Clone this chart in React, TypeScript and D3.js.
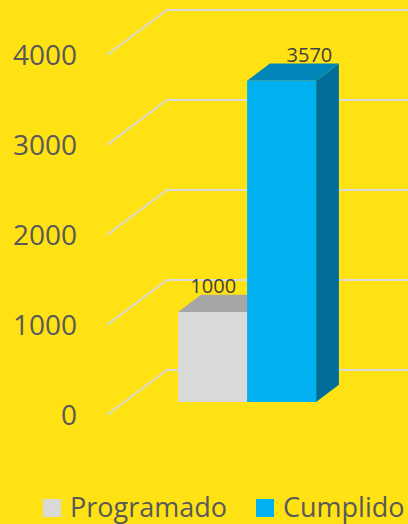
import * as d3 from 'd3';

const categories = ['Programado', 'Cumplido'];
const values = [1000, 3570];
const yTicks = [0, 1000, 2000, 3000, 4000];
const frontColors = ['#D9D9D9', '#00B0F0'];
const topColors = ['#A6A6A6', '#0086B8'];
const sideColors = ['#BFBFBF', '#006E98'];

const W = 408;
const H = 524;
const BG = '#FFE214';
const TEXT = '#595959';
const FONT = '"Open Sans", sans-serif';

// depth of the 3D box (grid front -> grid back)
const DX = 60;
const DY = -45;
const barFront = 0.29;
const barBack = 0.67;

const App = () => {
    const y = d3.scaleLinear().domain([0, 4000]).range([415, 55]);
    const x = d3.scaleBand().domain(categories).range([160.7, 298.7]).padding(0);
    const gridX0 = 107;

    const proj = (px: number, v: number, d: number): [number, number] => [px + DX * d, y(v) + DY * d];
    const poly = (pts: [number, number][]) => pts.map(p => p.join(',')).join(' ');

    return (
        <svg width={W} height={H} style={{ position: 'absolute', left: 0, top: 0, background: BG }}>
            <rect width={W} height={H} fill={BG} />
            {/* gridlines: diagonal side wall + horizontal back wall */}
            {yTicks.map(t => {
                const [fx, fy] = proj(gridX0, t, 0);
                const [bx, by] = proj(gridX0, t, 1);
                return (
                    <g key={t}>
                        <polyline points={poly([[fx, fy], [bx, by], [W, by]])} fill="none" stroke="#D9D9D9" strokeWidth={2} />
                        <text x={77} y={fy + 10} textAnchor="end" fontFamily={FONT} fontSize={28} fill={TEXT}>{t}</text>
                    </g>
                );
            })}
            {/* bars */}
            {categories.map((c, i) => {
                const x0 = x(c) as number;
                const x1 = x0 + x.bandwidth();
                const v = values[i];
                const front = poly([proj(x0, 0, barFront), proj(x1, 0, barFront), proj(x1, v, barFront), proj(x0, v, barFront)]);
                const top = poly([proj(x0, v, barFront), proj(x1, v, barFront), proj(x1, v, barBack), proj(x0, v, barBack)]);
                const side = poly([proj(x1, 0, barFront), proj(x1, 0, barBack), proj(x1, v, barBack), proj(x1, v, barFront)]);
                return (
                    <g key={c}>
                        <polygon points={side} fill={sideColors[i]} />
                        <polygon points={top} fill={topColors[i]} />
                        <polygon points={front} fill={frontColors[i]} />
                    </g>
                );
            })}
            {/* data labels */}
            {categories.map((c, i) => {
                const x0 = x(c) as number;
                const v = values[i];
                const next = values[i + 1];
                const [bx, by] = proj(x0 + x.bandwidth() / 2, v, barBack);
                let lx = bx + 5;
                let anchor: 'middle' | 'end' = 'middle';
                if (next !== undefined && next > v) {
                    // keep clear of the taller bar on the right
                    lx = proj(x0 + x.bandwidth(), 0, barFront)[0] - 11;
                    anchor = 'end';
                }
                return (
                    <text key={c} x={lx} y={by - 2} textAnchor={anchor} fontFamily={FONT} fontSize={20} fill="#404040">{v}</text>
                );
            })}
            {/* legend */}
            {categories.map((c, i) => {
                const lx = [43, 256][i];
                return (
                    <g key={c}>
                        <rect x={lx} y={499} width={18} height={18} fill={frontColors[i]} />
                        <text x={lx + 27} y={517} fontFamily={FONT} fontSize={27} fill={TEXT}>{c}</text>
                    </g>
                );
            })}
        </svg>
    );
};

export default App;
